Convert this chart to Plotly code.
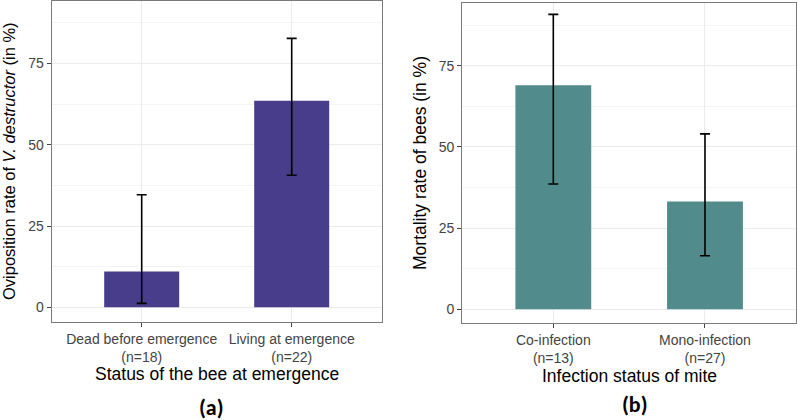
import plotly.graph_objects as go

# Panel (a)
cats_a = ["Dead before emergence<br>(n=18)", "Living at emergence<br>(n=22)"]
rate_a = [11.0, 63.5]
low_a = [1.2, 40.6]
high_a = [34.6, 82.7]

# Panel (b)
cats_b = ["Co-infection<br>(n=13)", "Mono-infection<br>(n=27)"]
rate_b = [69.0, 33.2]
low_b = [38.6, 16.5]
high_b = [90.8, 54.0]

yticks = [0, 25, 50, 75]

W, H = 797, 420
FONT = "Liberation Sans, Arial, sans-serif"

fig = go.Figure()

fig.add_trace(go.Bar(
    x=cats_a, y=rate_a, width=0.5, marker=dict(color="#483D8B", line=dict(width=0)),
    error_y=dict(type="data", symmetric=False,
                 array=[h - m for h, m in zip(high_a, rate_a)],
                 arrayminus=[m - l for m, l in zip(rate_a, low_a)],
                 color="black", thickness=1.6, width=5),
    xaxis="x", yaxis="y", showlegend=False, hoverinfo="skip"))

fig.add_trace(go.Bar(
    x=cats_b, y=rate_b, width=0.5, marker=dict(color="#528B8B", line=dict(width=0)),
    error_y=dict(type="data", symmetric=False,
                 array=[h - m for h, m in zip(high_b, rate_b)],
                 arrayminus=[m - l for m, l in zip(rate_b, low_b)],
                 color="black", thickness=1.6, width=5),
    xaxis="x2", yaxis="y2", showlegend=False, hoverinfo="skip"))

def px_x(p):
    return p / W

def px_y(p):
    return 1 - p / H

border = "#7a7a7a"
grid = "#ebebeb"
minor_grid = "#f4f4f4"
tickfont = dict(family=FONT, size=14, color="#444444")

common_x = dict(type="category", showgrid=True, gridcolor=grid, gridwidth=1,
                showline=True, linecolor=border, linewidth=1.2, mirror=True,
                ticks="outside", ticklen=4, tickcolor="#444444", tickwidth=1,
                tickfont=tickfont, range=[-0.6, 1.6], zeroline=False, fixedrange=True)
common_y = dict(showgrid=True, gridcolor=grid, gridwidth=1,
                minor=dict(dtick=12.5, tick0=12.5, showgrid=True, gridcolor=minor_grid, gridwidth=1),
                showline=True, linecolor=border, linewidth=1.2, mirror=True,
                ticks="outside", ticklen=4, tickcolor="#444444", tickwidth=1,
                tickfont=tickfont, tickvals=yticks, ticktext=[str(v) for v in yticks],
                zeroline=False, fixedrange=True)

fig.update_layout(
    width=W, height=H,
    margin=dict(l=0, r=0, t=0, b=0),
    paper_bgcolor="white", plot_bgcolor="white",
    bargap=0.5,
    xaxis=dict(domain=[px_x(51.7), px_x(381.7)], anchor="y", **common_x),
    yaxis=dict(domain=[px_y(321.7), px_y(0.7)], anchor="x", range=[-4.43, 94.3], **common_y),
    xaxis2=dict(domain=[px_x(462.3), px_x(796)], anchor="y2", **common_x),
    yaxis2=dict(domain=[px_y(323.3), px_y(2.7)], anchor="x2", range=[-4.31, 94.4], **common_y),
    font=dict(family=FONT),
)

title_font = dict(family=FONT, size=17.5, color="black")
ann = [
    dict(text="Oviposition rate of <i>V. destructor</i> (in %)", x=px_x(9), y=px_y(161),
         textangle=-90, font=dict(family=FONT, size=16.5, color="black")),
    dict(text="Mortality rate of bees (in %)", x=px_x(420), y=px_y(163),
         textangle=-90, font=title_font),
    dict(text="Status of the bee at emergence", x=px_x(216.5), y=px_y(374), font=title_font),
    dict(text="Infection status of mite", x=px_x(629), y=px_y(376), font=title_font),
    dict(text="<b>(a)</b>", x=px_x(211), y=px_y(407), font=dict(family="Carlito, Calibri, " + FONT, size=22, color="black")),
    dict(text="<b>(b)</b>", x=px_x(635), y=px_y(404), font=dict(family="Carlito, Calibri, " + FONT, size=22, color="black")),
]
for a in ann:
    a.update(xref="paper", yref="paper", showarrow=False, xanchor="center", yanchor="middle")
fig.update_layout(annotations=ann)

fig.write_html("out.html", config={"displayModeBar": False},
               post_script="document.body.style.margin='0';document.body.style.padding='0';document.body.style.overflow='hidden';")
